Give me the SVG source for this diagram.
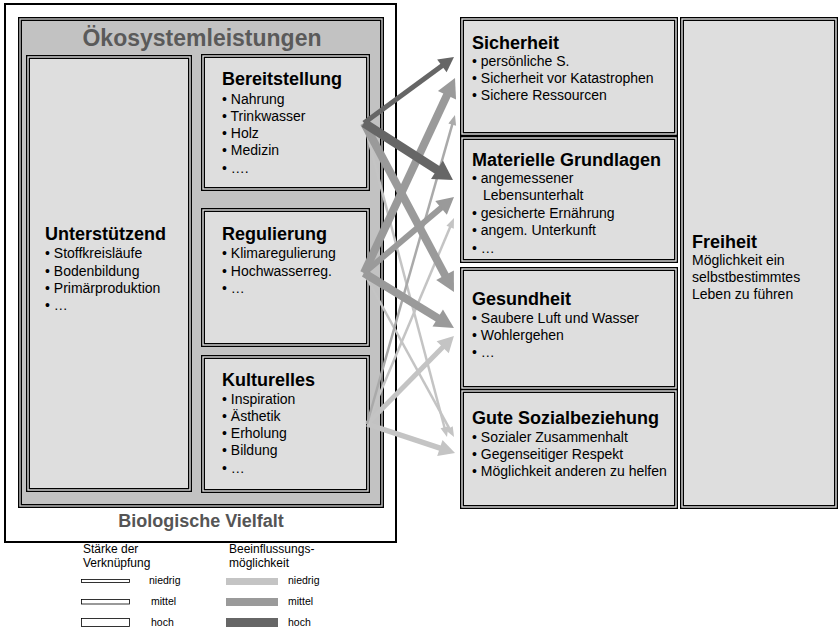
<svg xmlns="http://www.w3.org/2000/svg" width="838" height="631" viewBox="0 0 838 631">
<style>
text{font-family:"Liberation Sans",Arial,sans-serif;fill:#000}
.t{font-weight:bold;font-size:18px}
.i{font-size:14px}
.lg{font-size:12px}
.ls{font-size:10.5px}
.bx{fill:#dedede;stroke:#000;stroke-width:4}
.bxg{fill:none;stroke:#dedede;stroke-width:1.4}
.fr{fill:#c2c2c2;stroke:#000;stroke-width:4}
.frg{fill:none;stroke:#c2c2c2;stroke-width:1.4}
.dk{stroke:#666;fill:none}
.md{stroke:#9a9a9a;fill:none}
.mt{stroke:#aaa;fill:none}
.lt{stroke:#c4c4c4;fill:none}
.lw{fill:#fff;stroke:#000;stroke-width:0.8}
</style>
<defs>
<marker id="hd9" markerUnits="userSpaceOnUse" orient="auto" refX="0" refY="0" markerWidth="1" markerHeight="1" overflow="visible"><path d="M-1,-11 L18,0 L-1,11 Z" fill="#666"/></marker>
<marker id="hd5" markerUnits="userSpaceOnUse" orient="auto" refX="0" refY="0" markerWidth="1" markerHeight="1" overflow="visible"><path d="M-1,-8 L14,0 L-1,8 Z" fill="#666"/></marker>
<marker id="hm8" markerUnits="userSpaceOnUse" orient="auto" refX="0" refY="0" markerWidth="1" markerHeight="1" overflow="visible"><path d="M-1,-10 L18,0 L-1,10 Z" fill="#9a9a9a"/></marker>
<marker id="hm6" markerUnits="userSpaceOnUse" orient="auto" refX="0" refY="0" markerWidth="1" markerHeight="1" overflow="visible"><path d="M-1,-9 L16,0 L-1,9 Z" fill="#9a9a9a"/></marker>
<marker id="ht2" markerUnits="userSpaceOnUse" orient="auto" refX="0" refY="0" markerWidth="1" markerHeight="1" overflow="visible"><path d="M-1,-4 L9,0 L-1,4 Z" fill="#aaa"/></marker>
<marker id="hl5" markerUnits="userSpaceOnUse" orient="auto" refX="0" refY="0" markerWidth="1" markerHeight="1" overflow="visible"><path d="M-1,-8.5 L15,0 L-1,8.5 Z" fill="#c4c4c4"/></marker>
<marker id="hl2" markerUnits="userSpaceOnUse" orient="auto" refX="0" refY="0" markerWidth="1" markerHeight="1" overflow="visible"><path d="M-1,-4 L9,0 L-1,4 Z" fill="#c4c4c4"/></marker>
</defs>

<g id="biologische-vielfalt">
<rect x="5" y="4" width="391" height="538" fill="#fff" stroke="#000" stroke-width="2"/>
<text x="201" y="527" text-anchor="middle" font-weight="bold" font-size="18" style="fill:#555">Biologische Vielfalt</text>
</g>

<g id="oekosystemleistungen">
<rect class="fr" x="20" y="19" width="362" height="487"/>
<rect class="frg" x="20" y="19" width="362" height="487"/>
<text x="202" y="46" text-anchor="middle" font-weight="bold" font-size="23" style="fill:#5a5a5a">Ökosystemleistungen</text>
</g>

<g id="unterstuetzend">
<rect class="bx" x="28" y="57" width="162" height="433"/>
<rect class="bxg" x="28" y="57" width="162" height="433"/>
<text class="t" x="45" y="240">Unterstützend</text>
<text class="i" x="45" y="258">• Stoffkreisläufe</text>
<text class="i" x="45" y="276">• Bodenbildung</text>
<text class="i" x="45" y="293">• Primärproduktion</text>
<text class="i" x="45" y="310">• …</text>
</g>

<g id="bereitstellung">
<rect class="bx" x="203" y="56" width="165" height="133"/>
<rect class="bxg" x="203" y="56" width="165" height="133"/>
<text class="t" x="222" y="85">Bereitstellung</text>
<text class="i" x="222" y="104">• Nahrung</text>
<text class="i" x="222" y="121">• Trinkwasser</text>
<text class="i" x="222" y="138">• Holz</text>
<text class="i" x="222" y="155">• Medizin</text>
<text class="i" x="222" y="173">• ….</text>
</g>

<g id="regulierung">
<rect class="bx" x="203" y="210" width="165" height="135"/>
<rect class="bxg" x="203" y="210" width="165" height="135"/>
<text class="t" x="222" y="240">Regulierung</text>
<text class="i" x="222" y="258">• Klimaregulierung</text>
<text class="i" x="222" y="276">• Hochwasserreg.</text>
<text class="i" x="222" y="293">• …</text>
</g>

<g id="kulturelles">
<rect class="bx" x="203" y="357" width="165" height="134"/>
<rect class="bxg" x="203" y="357" width="165" height="134"/>
<text class="t" x="222" y="386">Kulturelles</text>
<text class="i" x="222" y="404">• Inspiration</text>
<text class="i" x="222" y="421">• Ästhetik</text>
<text class="i" x="222" y="438">• Erholung</text>
<text class="i" x="222" y="455">• Bildung</text>
<text class="i" x="222" y="473">• …</text>
</g>

<g id="sicherheit">
<rect class="bx" x="462" y="19" width="214" height="115"/>
<rect class="bxg" x="462" y="19" width="214" height="115"/>
<text class="t" x="472" y="49">Sicherheit</text>
<text class="i" x="472" y="66">• persönliche S.</text>
<text class="i" x="472" y="83">• Sicherheit vor Katastrophen</text>
<text class="i" x="472" y="100">• Sichere Ressourcen</text>
</g>

<g id="materielle-grundlagen">
<rect class="bx" x="462" y="138" width="214" height="123"/>
<rect class="bxg" x="462" y="138" width="214" height="123"/>
<text class="t" x="472" y="166">Materielle Grundlagen</text>
<text class="i" x="472" y="183">• angemessener</text>
<text class="i" x="483" y="200">Lebensunterhalt</text>
<text class="i" x="472" y="218">• gesicherte Ernährung</text>
<text class="i" x="472" y="235">• angem. Unterkunft</text>
<text class="i" x="472" y="253">• …</text>
</g>

<g id="gesundheit">
<rect class="bx" x="462" y="269" width="214" height="119"/>
<rect class="bxg" x="462" y="269" width="214" height="119"/>
<text class="t" x="472" y="305">Gesundheit</text>
<text class="i" x="472" y="323">• Saubere Luft und Wasser</text>
<text class="i" x="472" y="340">• Wohlergehen</text>
<text class="i" x="472" y="357">• …</text>
</g>

<g id="gute-sozialbeziehung">
<rect class="bx" x="462" y="391" width="214" height="116"/>
<rect class="bxg" x="462" y="391" width="214" height="116"/>
<text class="t" x="472" y="424">Gute Sozialbeziehung</text>
<text class="i" x="472" y="442">• Sozialer Zusammenhalt</text>
<text class="i" x="472" y="459">• Gegenseitiger Respekt</text>
<text class="i" x="472" y="476">• Möglichkeit anderen zu helfen</text>
</g>

<g id="freiheit">
<rect class="bx" x="682" y="19" width="154" height="488"/>
<rect class="bxg" x="682" y="19" width="154" height="488"/>
<text class="t" x="692" y="248">Freiheit</text>
<text class="i" x="692" y="265">Möglichkeit ein</text>
<text class="i" x="692" y="282">selbstbestimmtes</text>
<text class="i" x="692" y="299">Leben zu führen</text>
</g>

<g id="connectors">
<line class="lt" x1="364" y1="123" x2="444.7" y2="428.3" stroke-width="2.5" marker-end="url(#hl2)"/>
<line class="lt" x1="364" y1="273" x2="449.7" y2="429.1" stroke-width="2.5" marker-end="url(#hl2)"/>
<line class="lt" x1="367" y1="424" x2="450.5" y2="226.3" stroke-width="2.5" marker-end="url(#hl2)"/>
<line class="lt" x1="367" y1="424" x2="443.4" y2="346.6" stroke-width="5" marker-end="url(#hl5)"/>
<line class="lt" x1="367" y1="424" x2="440.8" y2="448.3" stroke-width="5.5" marker-end="url(#hl5)"/>
<line class="mt" x1="367" y1="424" x2="452.5" y2="123.7" stroke-width="2.5" marker-end="url(#ht2)"/>
<line class="md" x1="364" y1="123" x2="445.5" y2="276.1" stroke-width="8" marker-end="url(#hm8)"/>
<line class="md" x1="364" y1="273" x2="447.4" y2="94.3" stroke-width="8" marker-end="url(#hm8)"/>
<line class="md" x1="364" y1="273" x2="441.8" y2="207.3" stroke-width="6" marker-end="url(#hm6)"/>
<line class="md" x1="364" y1="273" x2="438.6" y2="318.6" stroke-width="8" marker-end="url(#hm8)"/>
<line class="dk" x1="364" y1="123" x2="442.7" y2="65.3" stroke-width="5" marker-end="url(#hd5)"/>
<line class="dk" x1="364" y1="123" x2="437.8" y2="170.3" stroke-width="9" marker-end="url(#hd9)"/>
</g>

<g id="legend">
<text class="lg" x="83" y="553">Stärke der</text>
<text class="lg" x="83" y="567">Verknüpfung</text>
<text class="lg" x="229" y="553">Beeinflussungs-</text>
<text class="lg" x="229" y="567">möglichkeit</text>
<rect class="lw" x="81.5" y="579.5" width="48" height="3"/>
<rect class="lw" x="81.5" y="599.5" width="48" height="4.5"/>
<rect class="lw" x="81.5" y="618.5" width="48" height="8"/>
<text class="ls" x="149" y="584">niedrig</text>
<text class="ls" x="151" y="605">mittel</text>
<text class="ls" x="151" y="626">hoch</text>
<rect x="226" y="578" width="52" height="7" fill="#c4c4c4"/>
<rect x="226" y="598" width="52" height="8" fill="#9a9a9a"/>
<rect x="226" y="618" width="52" height="9" fill="#666"/>
<text class="ls" x="288" y="584">niedrig</text>
<text class="ls" x="288" y="605">mittel</text>
<text class="ls" x="288" y="626">hoch</text>
</g>
</svg>
